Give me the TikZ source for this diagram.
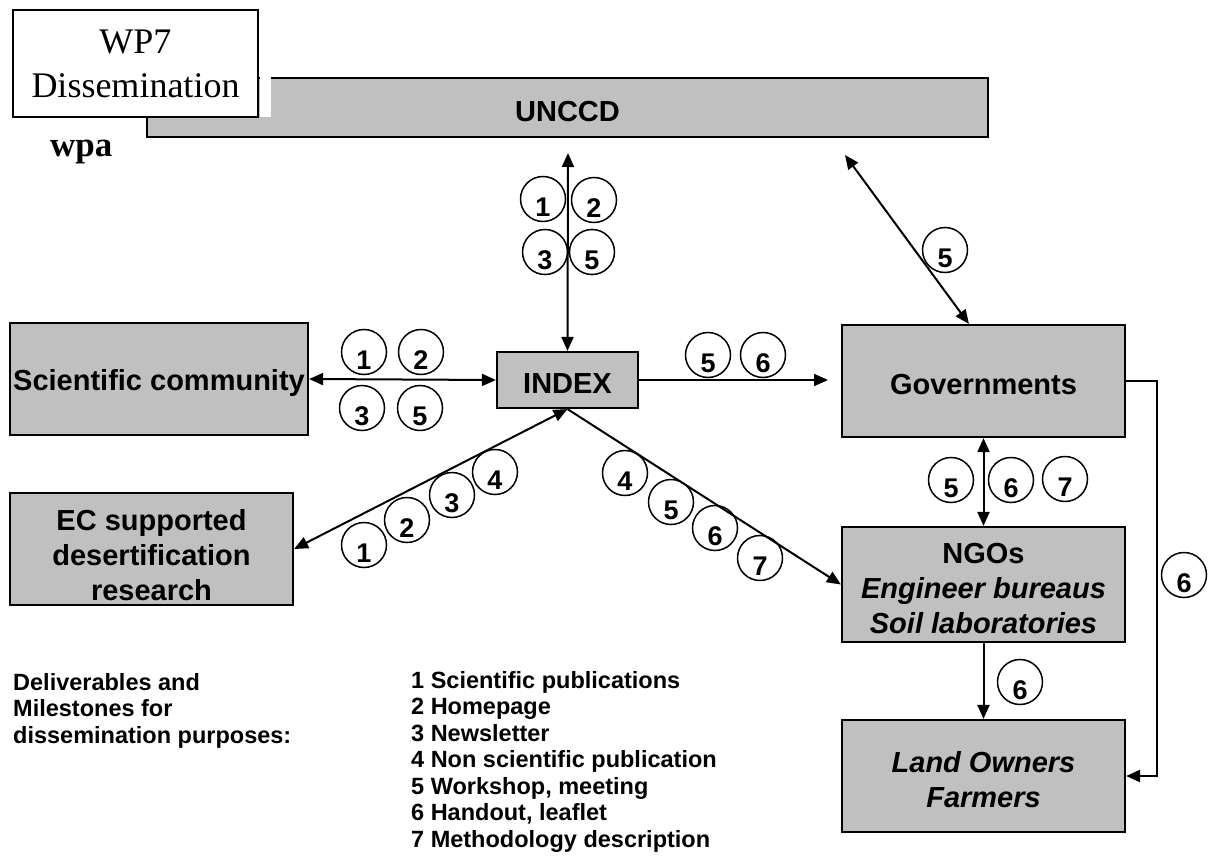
\documentclass[tikz,border=0pt]{standalone}
\usepackage{fontspec}
\setmainfont{Liberation Serif}
\setsansfont{Liberation Sans}
\usetikzlibrary{arrows.meta}
\definecolor{boxgray}{HTML}{C0C0C0}
\tikzset{
  box/.style={draw=black, line width=2.2pt, fill=boxgray, inner sep=0pt},
  boxlbl/.style={align=center, inner sep=0pt, yshift=-4pt,
    font=\sffamily\bfseries\fontsize{29}{35}\selectfont},
  conn/.style={line width=2pt, draw=black},
  numc/.style={circle, draw=black, line width=1.5pt, minimum size=45pt, inner sep=0pt},
  numt/.style={font=\sffamily\bfseries\fontsize{27}{27}\selectfont, yshift=-8pt, inner sep=0pt},
  legtext/.style={anchor=base west, inner sep=0pt, font=\sffamily\bfseries\fontsize{23.5}{26.5}\selectfont},
  >={Triangle[length=14pt,width=12pt]}
}
\newcommand\numcirc[4]{\node[numc] (#1) at (#2,#3) {}; \node[numt] (#1t) at (#1.center) {#4};}
\begin{document}
\begin{tikzpicture}[x=1pt,y=-1pt]
\useasboundingbox (0,0) rectangle (1210,864);
% boxes
\node[box, minimum width=841pt, minimum height=59pt, label={[boxlbl]center:UNCCD}] (unccd) at (567.5,107.5) {};
\node[draw=black, line width=1.5pt, fill=white, minimum width=245pt, minimum height=107pt, inner sep=0pt, align=center,
  font=\rmfamily\fontsize{36}{44}\selectfont] (wp7) at (135.5,63.5) {WP7\\Dissemination};
\fill[white] ([xshift=1pt]wp7.north east) rectangle ([xshift=12pt,yshift=1pt]wp7.south east);
\node[anchor=base west, inner sep=0pt, font=\rmfamily\bfseries\fontsize{35}{35}\selectfont] (wpa) at (50,157) {wpa};
\node[box, minimum width=298pt, minimum height=112pt, label={[boxlbl]center:Scientific community}] (sci) at (159,379) {};
\node[box, minimum width=283pt, minimum height=112pt, label={[boxlbl,yshift=-2pt]center:EC supported\\desertification\\research}] (ec) at (151.5,549) {};
\node[box, minimum width=141pt, minimum height=56pt, label={[boxlbl]center:INDEX}] (index) at (567.5,380) {};
\node[box, minimum width=283pt, minimum height=112pt, label={[boxlbl]center:Governments}] (gov) at (983.5,381) {};
\node[box, minimum width=283pt, minimum height=115pt, label={[boxlbl]center:NGOs\\\itshape Engineer bureaus\\\itshape Soil laboratories}] (ngo) at (983.5,584.5) {};
\node[box, minimum width=283pt, minimum height=112pt, label={[boxlbl]center:\itshape Land Owners\\\itshape Farmers}] (land) at (983.5,776) {};
% free ends
\coordinate (utop) at (568,153);
\coordinate (ugov) at (845,155);
\coordinate (igov) at (828,380);
% connectors
\draw[conn,<->] (utop) -- (index.north);
\draw[conn,<->] (sci.east) -- (index.west);
\draw[conn,<->] (ec.east) -- (index.south);
\draw[conn,->] (index.south) -- (ngo.west);
\draw[conn,->] (index.east) -- (igov);
\draw[conn,<->] (ugov) -- ([xshift=128pt]gov.north west);
\draw[conn,<->] (gov.south) -- (ngo.north);
\draw[conn,->] (ngo.south) -- (land.north);
\draw[conn,->] (gov.east) -- ++(31,0) |- (land.east);
% numbered circles
\numcirc{a1}{543}{199}{1}
\numcirc{a2}{594}{200}{2}
\numcirc{a3}{545}{252}{3}
\numcirc{a5}{592}{252}{5}
\numcirc{b1}{364}{352}{1}
\numcirc{b2}{421}{352}{2}
\numcirc{b3}{362}{408}{3}
\numcirc{b5}{420}{408}{5}
\numcirc{c1}{364}{545}{1}
\numcirc{c2}{407}{520}{2}
\numcirc{c3}{452}{495}{3}
\numcirc{c4}{495}{472}{4}
\numcirc{d4}{625}{473}{4}
\numcirc{d5}{671}{502}{5}
\numcirc{d6}{715}{528}{6}
\numcirc{d7}{760}{558}{7}
\numcirc{e5}{708}{355}{5}
\numcirc{e6}{763}{355}{6}
\numcirc{f5}{945}{250}{5}
\numcirc{g5}{951}{480}{5}
\numcirc{g6}{1011}{480}{6}
\numcirc{g7}{1065}{479}{7}
\numcirc{h6}{1020}{682}{6}
\numcirc{i6}{1184}{575}{6}
% legend
\node[legtext] (l1) at (13,690) {Deliverables and};
\node[legtext] (l2) at (13,716.5) {Milestones for};
\node[legtext] (l3) at (13,743) {dissemination purposes:};
\foreach \t [count=\i] in {{1 Scientific publications},{2 Homepage},{3 Newsletter},{4 Non scientific publication},{5 Workshop, meeting},{6 Handout, leaflet},{7 Methodology description}}
  \node[legtext] (r\i) at (411,{688+26.5*(\i-1)}) {\t};
\end{tikzpicture}
\end{document}
